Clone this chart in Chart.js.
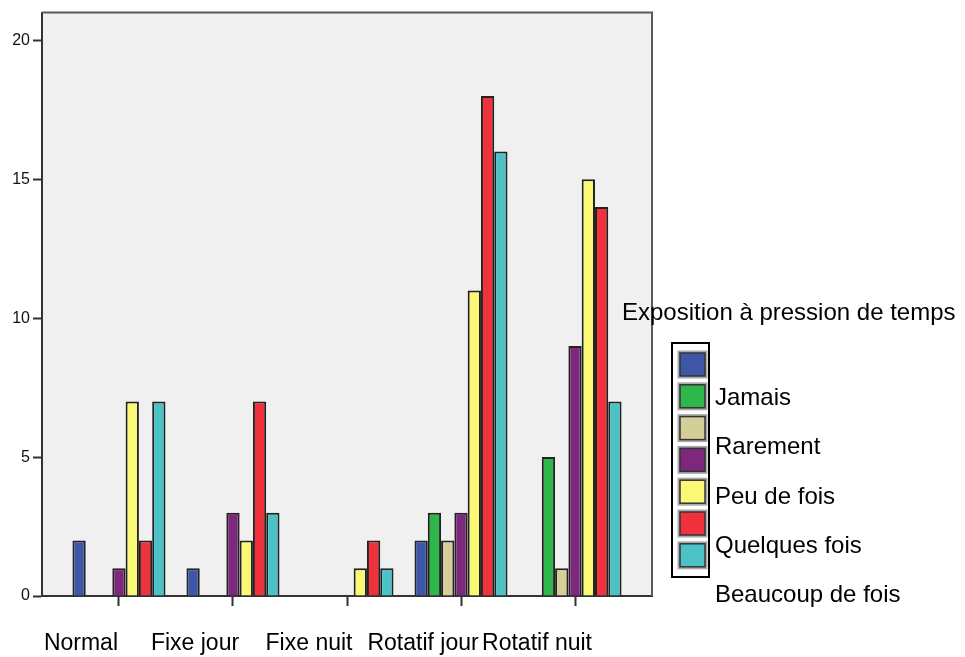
<!DOCTYPE html>
<html lang="fr">
<head>
    <meta charset="UTF-8">
    <title>Exposition à pression de temps</title>
    <script src="https://cdn.jsdelivr.net/npm/chart.js"></script>
    <style>
        body { margin: 0; background: #fff; }
        .chart-container { position: relative; width: 965px; height: 657px; }
    </style>
</head>
<body>
    <div class="chart-container"><canvas id="chart"></canvas></div>

    <script>
        const categories = ['Normal', 'Fixe jour', 'Fixe nuit', 'Rotatif jour', 'Rotatif nuit'];
        const seriesNames = ['', 'Jamais', 'Rarement', 'Peu de fois', 'Quelques fois', 'Beaucoup de fois', ''];
        const seriesColors = ['#3d56a8', '#2eb84c', '#d4cf99', '#7d277d', '#fbf876', '#f0323d', '#4bc3c6'];

        const serie1 = [2, 1, 0, 2, 0];    // bleu
        const serie2 = [0, 0, 0, 3, 5];    // vert
        const serie3 = [0, 0, 0, 2, 1];    // beige
        const serie4 = [1, 3, 0, 3, 9];    // violet
        const serie5 = [7, 2, 1, 11, 15];  // jaune
        const serie6 = [2, 7, 2, 18, 14];  // rouge
        const serie7 = [7, 3, 1, 16, 7];   // cyan
        const seriesValues = [serie1, serie2, serie3, serie4, serie5, serie6, serie7];

        const yTicks = [0, 5, 10, 15, 20];
        const legendTitle = 'Exposition à pression de temps';

        const FONT = '"Liberation Sans", Arial, sans-serif';
        Chart.defaults.font.family = FONT;

        // fond gris + bord haut/droite du cadre
        const framePlugin = {
            id: 'frame',
            beforeDraw(chart) {
                const { ctx, chartArea: a } = chart;
                ctx.save();
                ctx.fillStyle = '#f0f0f0';
                ctx.fillRect(a.left, a.top, a.right - a.left, a.bottom - a.top);
                ctx.restore();
            },
            afterDraw(chart) {
                const { ctx, chartArea: a } = chart;
                ctx.save();
                ctx.strokeStyle = '#5a5a5a';
                ctx.lineWidth = 2;
                ctx.beginPath();
                ctx.moveTo(a.left, a.top);
                ctx.lineTo(a.right, a.top);
                ctx.lineTo(a.right, a.bottom);
                ctx.stroke();
                ctx.restore();
            }
        };

        // légende façon SPSS (étiquettes décalées des carrés)
        const legendPlugin = {
            id: 'sideLegend',
            afterDraw(chart) {
                const ctx = chart.ctx;
                const sets = chart.data.datasets;
                ctx.save();
                ctx.fillStyle = '#000';
                ctx.textBaseline = 'middle';
                ctx.font = '24px ' + FONT;
                ctx.fillText(legendTitle, 622, 313);

                ctx.strokeStyle = '#000';
                ctx.lineWidth = 2;
                ctx.strokeRect(672, 343, 37, 234);

                sets.forEach((ds, i) => {
                    const y = 353 + 31.8 * i;
                    ctx.strokeStyle = '#aaa';
                    ctx.lineWidth = 3;
                    ctx.strokeRect(679, y - 1, 27, 25);
                    ctx.fillStyle = ds.backgroundColor;
                    ctx.fillRect(680, y, 25, 23);
                    ctx.strokeStyle = '#333';
                    ctx.lineWidth = 1.5;
                    ctx.strokeRect(680, y, 25, 23);
                });

                ctx.fillStyle = '#000';
                sets.forEach((ds, i) => {
                    if (ds.label) ctx.fillText(ds.label, 715, 349 + 49.3 * i);
                });
                ctx.restore();
            }
        };

        new Chart(document.getElementById('chart'), {
            type: 'bar',
            data: {
                datasets: seriesValues.map((vals, i) => ({
                    label: seriesNames[i],
                    data: vals.map((v, k) => ({ x: k + 1, y: v })),
                    backgroundColor: seriesColors[i],
                    borderColor: '#222',
                    borderWidth: 2,
                    categoryPercentage: 0.816,
                    barPercentage: 1.0
                }))
            },
            options: {
                responsive: true,
                maintainAspectRatio: false,
                animation: false,
                layout: { padding: { top: 10, right: 313, left: 0, bottom: 0 } },
                plugins: { legend: { display: false }, tooltip: { enabled: false } },
                scales: {
                    x: {
                        type: 'linear',
                        offset: false,
                        min: 0.325,
                        max: 5.675,
                        afterBuildTicks: s => { s.ticks = categories.map((c, k) => ({ value: k + 1 })); },
                        afterFit: s => { s.height = 61; },
                        grid: { offset: false, drawOnChartArea: false, tickLength: 10, tickWidth: 2, tickColor: '#333' },
                        border: { color: '#333', width: 2 },
                        ticks: {
                            callback: v => categories[v - 1],
                            font: { size: 23 },
                            color: '#000',
                            padding: 24,
                            labelOffset: -38,
                            maxRotation: 0,
                            autoSkip: false
                        }
                    },
                    y: {
                        min: 0,
                        max: 21,
                        afterBuildTicks: s => { s.ticks = yTicks.map(v => ({ value: v })); },
                        afterFit: s => { s.width = 42; },
                        grid: { drawOnChartArea: false, tickLength: 9, tickWidth: 2, tickColor: '#333' },
                        border: { color: '#333', width: 2 },
                        ticks: { font: { size: 16 }, color: '#111', padding: 3 }
                    }
                }
            },
            plugins: [framePlugin, legendPlugin]
        });
    </script>
</body>
</html>
